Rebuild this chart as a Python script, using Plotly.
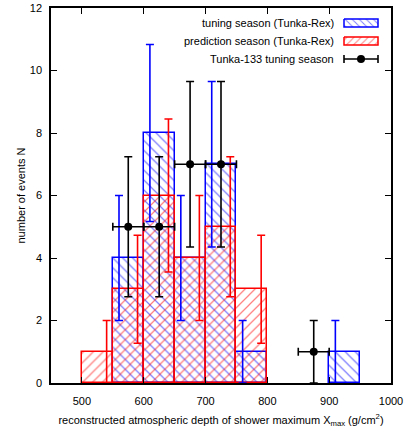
import plotly.graph_objects as go

# ---- data ----
bin_left = [500, 550, 600, 650, 700, 750, 800, 850, 900]
bin_width = 50
tuning_counts = [0, 4, 8, 4, 7, 1, 0, 0, 1]
tuning_err = [0, 2.0, 2.83, 2.0, 2.65, 1.0, 0, 0, 1.0]
prediction_counts = [1, 3, 6, 4, 5, 3, 0, 0, 0]
prediction_err = [1.0, 1.73, 2.45, 2.0, 2.24, 1.73, 0, 0, 0]
tunka_x = [575, 625, 675, 725, 875]
tunka_y = [5, 5, 7, 7, 1]
tunka_xerr = [25, 25, 25, 25, 25]
tunka_yerr = [2.24, 2.24, 2.65, 2.65, 1.0]

legend_labels = ["tuning season (Tunka-Rex)", "prediction season (Tunka-Rex)", "Tunka-133 tuning season"]

BLUE = "#0000ff"
RED = "#ff0000"
FONT = "Liberation Sans, Arial, sans-serif"

centers = [b + bin_width / 2 for b in bin_left]


def nz(vals):
    return [v if v > 0 else None for v in vals]


fig = go.Figure()

fig.add_trace(go.Bar(
    x=centers, y=nz(tuning_counts), width=bin_width,
    marker=dict(color="rgba(0,0,0,0)", line=dict(color=BLUE, width=1.5),
                pattern=dict(shape="\\", fgcolor=BLUE, bgcolor="rgba(0,0,0,0)",
                             size=7, solidity=0.18, fillmode="overlay")),
    showlegend=False,
))
fig.add_trace(go.Bar(
    x=centers, y=nz(prediction_counts), width=bin_width,
    marker=dict(color="rgba(0,0,0,0)", line=dict(color=RED, width=1.5),
                pattern=dict(shape="/", fgcolor=RED, bgcolor="rgba(0,0,0,0)",
                             size=7, solidity=0.18, fillmode="overlay")),
    showlegend=False,
))

# error bars of the histograms
tx = [b + 10 for b, c in zip(bin_left, tuning_counts) if c > 0]
ty = [c for c in tuning_counts if c > 0]
te = [e for c, e in zip(tuning_counts, tuning_err) if c > 0]
px_ = [b + bin_width - 10 for b, c in zip(bin_left, prediction_counts) if c > 0]
py_ = [c for c in prediction_counts if c > 0]
pe = [e for c, e in zip(prediction_counts, prediction_err) if c > 0]

fig.add_trace(go.Scatter(
    x=tx, y=ty, mode="markers", marker=dict(size=1, color="rgba(0,0,0,0)"),
    error_y=dict(type="data", array=te, color=BLUE, thickness=1.6, width=4),
    showlegend=False,
))
fig.add_trace(go.Scatter(
    x=px_, y=py_, mode="markers", marker=dict(size=1, color="rgba(0,0,0,0)"),
    error_y=dict(type="data", array=pe, color=RED, thickness=1.6, width=4),
    showlegend=False,
))
fig.add_trace(go.Scatter(
    x=tunka_x, y=tunka_y, mode="markers", marker=dict(size=8, color="black"),
    error_y=dict(type="data", array=tunka_yerr, color="black", thickness=1.6, width=4),
    error_x=dict(type="data", array=tunka_xerr, color="black", thickness=1.6, width=4),
    showlegend=False,
))

# ---- custom legend (pixel coordinate overlay axes) ----
key_x0, key_x1 = 344, 378
rows_y = [23, 41, 59]
fig.add_trace(go.Scatter(
    x=[key_x0, key_x1, key_x1, key_x0, key_x0],
    y=[rows_y[0] - 4, rows_y[0] - 4, rows_y[0] + 4, rows_y[0] + 4, rows_y[0] - 4],
    xaxis="x2", yaxis="y2", mode="lines", fill="toself",
    line=dict(color=BLUE, width=1.5), fillcolor="rgba(0,0,0,0)",
    fillpattern=dict(shape="\\", fgcolor=BLUE, bgcolor="rgba(0,0,0,0)", size=5, solidity=0.2),
    showlegend=False, hoverinfo="skip",
))
fig.add_trace(go.Scatter(
    x=[key_x0, key_x1, key_x1, key_x0, key_x0],
    y=[rows_y[1] - 4, rows_y[1] - 4, rows_y[1] + 4, rows_y[1] + 4, rows_y[1] - 4],
    xaxis="x2", yaxis="y2", mode="lines", fill="toself",
    line=dict(color=RED, width=1.5), fillcolor="rgba(0,0,0,0)",
    fillpattern=dict(shape="/", fgcolor=RED, bgcolor="rgba(0,0,0,0)", size=5, solidity=0.2),
    showlegend=False, hoverinfo="skip",
))
fig.add_trace(go.Scatter(
    x=[(key_x0 + key_x1) / 2], y=[rows_y[2]], xaxis="x2", yaxis="y2",
    mode="markers", marker=dict(size=8, color="black"),
    error_x=dict(type="constant", value=(key_x1 - key_x0) / 2, color="black", thickness=1.6, width=4),
    showlegend=False, hoverinfo="skip",
))

annotations = []
for lab, yy in zip(legend_labels, rows_y):
    annotations.append(dict(x=336, y=yy, xref="x2", yref="y2", text=lab, showarrow=False,
                            xanchor="right", yanchor="middle", font=dict(size=11, color="black", family=FONT)))

axis_common = dict(showgrid=False, zeroline=False, showline=True, linecolor="black", linewidth=1.5,
                   mirror="ticks", ticks="inside", ticklen=6, tickwidth=1, tickcolor="black",
                   automargin=False,
                   tickfont=dict(size=11, color="black", family=FONT))

fig.update_layout(
    width=406, height=433,
    margin=dict(l=51, r=15, t=8, b=50),
    paper_bgcolor="white", plot_bgcolor="white",
    barmode="overlay", bargap=0,
    font=dict(family=FONT, size=11, color="black"),
    xaxis=dict(range=[450, 1000], dtick=100, tick0=500, ticklabelstandoff=7,
               title=dict(text="reconstructed atmospheric depth of shower maximum X<sub>max</sub> (g/cm<sup>2</sup>)",
                          font=dict(size=11, family=FONT), standoff=10),
               **axis_common),
    yaxis=dict(range=[0, 12], dtick=2, ticklabelstandoff=5,
               title=dict(text="number of events N", font=dict(size=11, family=FONT), standoff=2),
               **axis_common),
    xaxis2=dict(range=[51, 391], overlaying="x", visible=False, fixedrange=True),
    yaxis2=dict(range=[383, 8], overlaying="y", visible=False, fixedrange=True),
    annotations=annotations,
)

fig.write_html("out.html", config={"displayModeBar": False},
               post_script="document.body.style.margin='0';document.body.style.overflow='hidden';")
